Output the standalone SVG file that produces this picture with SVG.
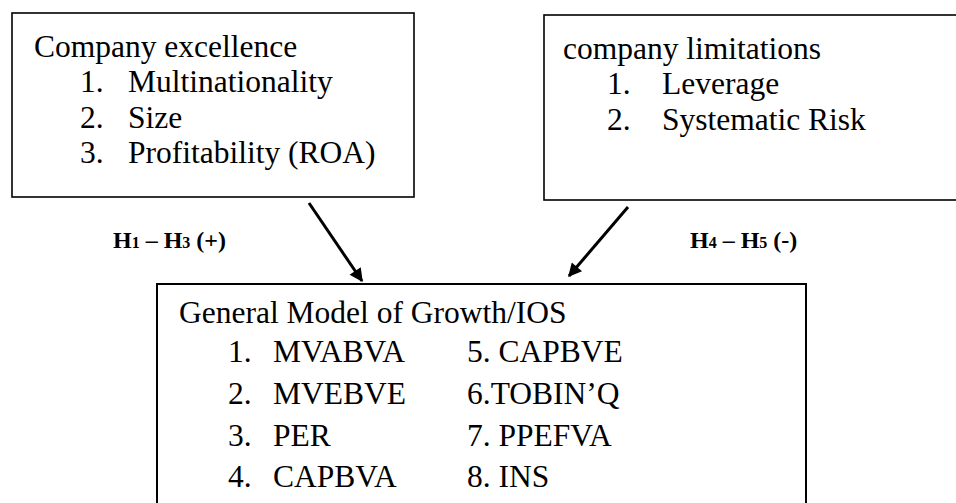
<svg xmlns="http://www.w3.org/2000/svg" width="956" height="503" viewBox="0 0 956 503">
<style>
.box{fill:#fff;stroke:#000;stroke-width:1.6}
.t{font-family:"Liberation Serif","Times New Roman",serif;font-size:31.5px;fill:#000}
.lbl{font-family:"Liberation Serif","Times New Roman",serif;font-size:24px;font-weight:bold;fill:#000}
.sub{font-size:16px}
.arr{stroke:#000;stroke-width:3;fill:none;marker-end:url(#ah)}
</style>
<defs>
<marker id="ah" viewBox="0 0 10 10" refX="9" refY="5" markerWidth="5.5" markerHeight="4.5" orient="auto" markerUnits="strokeWidth">
<path d="M0,0 L10,5 L0,10 z" fill="#000"/>
</marker>
</defs>
<rect width="956" height="503" fill="#fff"/>
<g id="node-excellence">
<rect class="box" x="12" y="13" width="402" height="184"/>
<text class="t" x="34" y="56.5">Company excellence</text>
<text class="t" x="80" y="92">1.</text><text class="t" x="128" y="92">Multinationality</text>
<text class="t" x="80" y="127.5">2.</text><text class="t" x="128" y="127.5">Size</text>
<text class="t" x="80" y="163">3.</text><text class="t" x="128" y="163">Profitability (ROA)</text>
</g>
<g id="node-limitations">
<rect class="box" x="544" y="15" width="420" height="185"/>
<text class="t" x="563" y="58.5">company limitations</text>
<text class="t" x="607" y="94">1.</text><text class="t" x="662" y="94">Leverage</text>
<text class="t" x="607" y="129.5">2.</text><text class="t" x="662" y="129.5">Systematic Risk</text>
</g>
<g id="node-growth">
<rect class="box" x="157" y="284" width="649" height="230" style="stroke-width:2"/>
<text class="t" x="179" y="323">General Model of Growth/IOS</text>
<text class="t" x="228" y="362">1.</text><text class="t" x="273" y="362">MVABVA</text>
<text class="t" x="467" y="362">5. CAPBVE</text>
<text class="t" x="228" y="404">2.</text><text class="t" x="273" y="404">MVEBVE</text>
<text class="t" x="467" y="404">6.TOBIN’Q</text>
<text class="t" x="228" y="445.5">3.</text><text class="t" x="273" y="445.5">PER</text>
<text class="t" x="467" y="445.5">7. PPEFVA</text>
<text class="t" x="228" y="487">4.</text><text class="t" x="273" y="487">CAPBVA</text>
<text class="t" x="467" y="487">8. INS</text>
</g>
<g id="connectors">
<line class="arr" x1="309" y1="203" x2="362" y2="281"/>
<line class="arr" x1="628" y1="207" x2="569" y2="276"/>
<text class="lbl" x="113" y="248">H<tspan class="sub">1</tspan> – H<tspan class="sub">3</tspan> (+)</text>
<text class="lbl" x="690" y="248">H<tspan class="sub">4</tspan> – H<tspan class="sub">5</tspan> (-)</text>
</g>
</svg>
